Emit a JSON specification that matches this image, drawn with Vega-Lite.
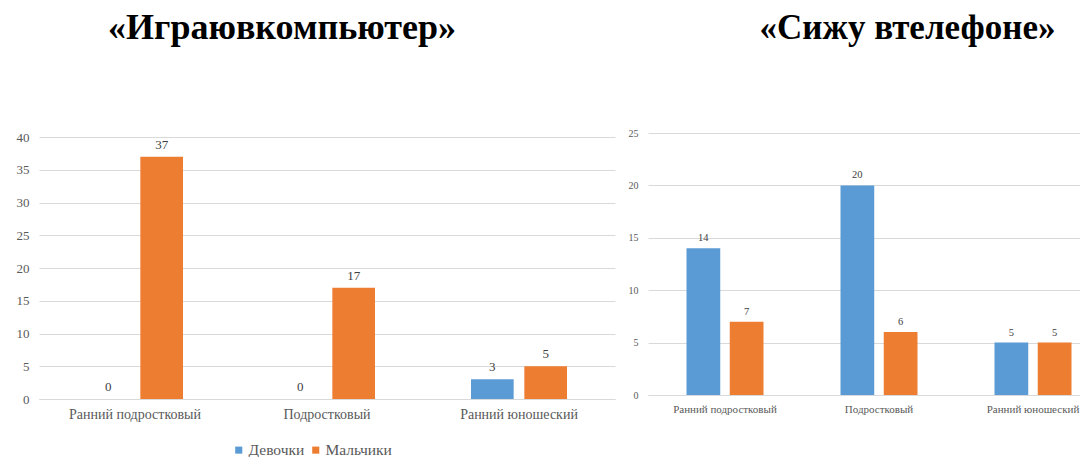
{
  "$schema": "https://vega.github.io/schema/vega-lite/v6.json",
  "background": "white",
  "padding": {"left": 16, "top": 10, "right": 0, "bottom": 0},
  "datasets": {
    "game": [
      {"age": "Ранний подростковый", "gender": "Девочки", "value": 0},
      {"age": "Ранний подростковый", "gender": "Мальчики", "value": 37},
      {"age": "Подростковый", "gender": "Девочки", "value": 0},
      {"age": "Подростковый", "gender": "Мальчики", "value": 17},
      {"age": "Ранний юношеский", "gender": "Девочки", "value": 3},
      {"age": "Ранний юношеский", "gender": "Мальчики", "value": 5}
    ],
    "phone": [
      {"age": "Ранний подростковый", "gender": "Девочки", "value": 14},
      {"age": "Ранний подростковый", "gender": "Мальчики", "value": 7},
      {"age": "Подростковый", "gender": "Девочки", "value": 20},
      {"age": "Подростковый", "gender": "Мальчики", "value": 6},
      {"age": "Ранний юношеский", "gender": "Девочки", "value": 5},
      {"age": "Ранний юношеский", "gender": "Мальчики", "value": 5}
    ]
  },
  "config": {
    "view": {"stroke": null},
    "font": "Liberation Serif",
    "axis": {"labelFont": "Liberation Serif", "labelColor": "#595959", "gridColor": "#d9d9d9", "domain": false, "ticks": false},
    "legend": {"labelFont": "Liberation Serif"},
    "title": {"font": "Liberation Serif", "fontWeight": "bold", "color": "#000000"}
  },
  "resolve": {"scale": {"x": "independent", "y": "independent", "xOffset": "independent"}, "legend": {"color": "independent"}},
  "spacing": 13,
  "hconcat": [
    {
      "width": 528,
      "height": 262,
      "title": {"text": "«Играювкомпьютер»", "anchor": "middle", "fontSize": 36, "dx": -21, "offset": 84},
      "data": {"name": "game"},
      "encoding": {
        "x": {"field": "age", "type": "nominal", "sort": null, "title": null,
          "scale": {"range": [0, 576], "paddingInner": 0.5, "paddingOuter": 0.25},
          "axis": {"labelAngle": 0, "labelFontSize": 14, "labelPadding": 8, "domain": true, "domainColor": "#d9d9d9", "labelOverlap": false}},
        "xOffset": {"field": "gender", "type": "nominal", "scale": {"paddingInner": 0.2, "paddingOuter": 0}},
        "y": {"field": "value", "type": "quantitative", "title": null,
          "scale": {"domain": [0, 40], "nice": false},
          "axis": {"values": [0, 5, 10, 15, 20, 25, 30, 35, 40], "labelFontSize": 13, "labelPadding": 10}}
      },
      "layer": [
        {
          "mark": {"type": "bar", "clip": true},
          "encoding": {
            "color": {"field": "gender", "type": "nominal", "title": null,
              "scale": {"domain": ["Девочки", "Мальчики"], "range": ["#5b9bd5", "#ed7d31"]},
              "legend": {"orient": "none", "legendX": 192, "legendY": 305, "direction": "horizontal", "symbolType": "square", "symbolSize": 50, "labelFontSize": 15.5, "labelColor": "#595959", "columnPadding": 3, "symbolOffset": 0, "labelOffset": 2}}
          }
        },
        {
          "mark": {"type": "text", "baseline": "bottom", "dy": -5, "fontSize": 13, "color": "#404040"},
          "encoding": {"text": {"field": "value", "type": "quantitative"}}
        }
      ]
    },
    {
      "width": 429,
      "height": 262,
      "title": {"text": "«Сижу втелефоне»", "anchor": "middle", "fontSize": 35, "dx": 45, "offset": 82},
      "data": {"name": "phone"},
      "encoding": {
        "x": {"field": "age", "type": "nominal", "sort": null, "title": null,
          "scale": {"range": [0, 462], "paddingInner": 0.5, "paddingOuter": 0.25},
          "axis": {"labelAngle": 0, "labelFontSize": 11, "labelPadding": 8, "offset": -4, "domain": true, "domainColor": "#d9d9d9", "labelOverlap": false}},
        "xOffset": {"field": "gender", "type": "nominal", "scale": {"paddingInner": 0.22, "paddingOuter": 0}},
        "y": {"field": "value", "type": "quantitative", "title": null,
          "scale": {"domain": [0, 25], "nice": false, "range": [258, -4]},
          "axis": {"values": [0, 5, 10, 15, 20, 25], "labelFontSize": 10, "labelPadding": 10}}
      },
      "layer": [
        {
          "mark": {"type": "bar"},
          "encoding": {
            "color": {"field": "gender", "type": "nominal", "legend": null,
              "scale": {"domain": ["Девочки", "Мальчики"], "range": ["#5b9bd5", "#ed7d31"]}}
          }
        },
        {
          "mark": {"type": "text", "baseline": "bottom", "dy": -5, "fontSize": 10.5, "color": "#404040"},
          "encoding": {"text": {"field": "value", "type": "quantitative"}}
        }
      ]
    }
  ]
}
